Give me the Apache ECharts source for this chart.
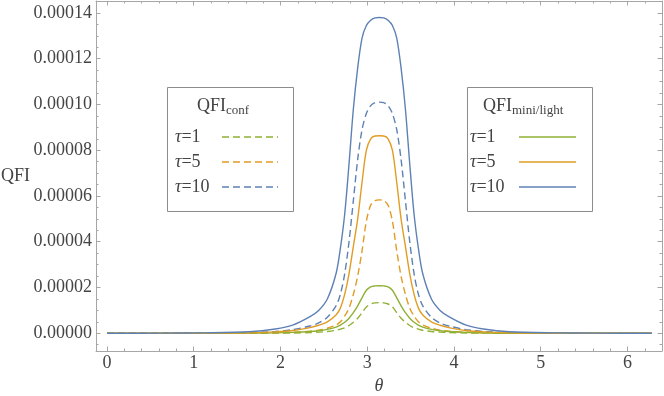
<!DOCTYPE html>
<html><head><meta charset="utf-8">
<script src="https://cdn.jsdelivr.net/npm/echarts@6/dist/echarts.min.js"></script>
<style>html,body{margin:0;padding:0;background:#fff}#c{width:664px;height:396px}</style>
</head><body><div id="c"></div>
<script>
// theta sample positions
const theta = [0, 0.64, 1.14, 1.64, 1.94, 2.14, 2.34, 2.44, 2.54, 2.64, 2.69, 2.74, 2.79, 2.84, 2.89, 2.94, 2.99, 3.04, 3.09, 3.14,
  3.19, 3.24, 3.29, 3.34, 3.39, 3.44, 3.49, 3.54, 3.59, 3.64, 3.74, 3.84, 3.94, 4.14, 4.34, 4.64, 5.14, 5.64, 6.28];
// values in units of 1e-6
const UNIT = 1e-6;
const miniTau10 = [0, 0.05, 0.2, 0.7, 1.9, 3.6, 7.3, 10, 15, 26, 37, 52, 74, 98, 116, 129, 134.5, 136.8, 137.8, 138,
  137.8, 136.8, 134.5, 129, 116, 98, 74, 52, 37, 26, 15, 10, 7.3, 3.6, 1.9, 0.7, 0.2, 0.05, 0];
const confTau10 = [0, 0.02, 0.08, 0.3, 0.8, 1.6, 3.2, 4.5, 7, 12, 17, 26, 40, 58, 76, 89, 96, 99.5, 100.8, 101,
  100.8, 99.5, 96, 89, 76, 58, 40, 26, 17, 12, 7, 4.5, 3.2, 1.6, 0.8, 0.3, 0.08, 0.02, 0];
const miniTau5 = [0, 0.02, 0.08, 0.25, 0.6, 1.2, 2.5, 3.5, 5, 8, 11, 17, 26, 38, 50, 66, 80, 85, 86.2, 86.3,
  86.2, 85, 80, 66, 50, 38, 26, 17, 11, 8, 5, 3.5, 2.5, 1.2, 0.6, 0.25, 0.08, 0.02, 0];
const confTau5 = [0, 0, 0.02, 0.09, 0.22, 0.45, 0.9, 1.4, 2.2, 3.6, 5, 7.5, 11, 17, 25, 36, 49, 56, 58, 58.3,
  58, 56, 49, 36, 25, 17, 11, 7.5, 5, 3.6, 2.2, 1.4, 0.9, 0.45, 0.22, 0.09, 0.02, 0, 0];
const miniTau1 = [0, 0, 0.02, 0.08, 0.2, 0.38, 0.75, 1.1, 1.7, 2.7, 3.6, 4.8, 6.6, 9, 12, 15.5, 18.8, 20.3, 20.7, 20.8,
  20.7, 20.3, 18.8, 15.5, 12, 9, 6.6, 4.8, 3.6, 2.7, 1.7, 1.1, 0.75, 0.38, 0.2, 0.08, 0.02, 0, 0];
const confTau1 = [0, 0, 0, 0.03, 0.07, 0.14, 0.3, 0.5, 0.8, 1.3, 1.8, 2.4, 3.4, 4.8, 6.6, 9, 11.5, 12.8, 13.3, 13.4,
  13.3, 12.8, 11.5, 9, 6.6, 4.8, 3.4, 2.4, 1.8, 1.3, 0.8, 0.5, 0.3, 0.14, 0.07, 0.03, 0, 0, 0];

const xTicks = [0, 1, 2, 3, 4, 5, 6];
const xMinor = [0.2,0.4,0.6,0.8,1.2,1.4,1.6,1.8,2.2,2.4,2.6,2.8,3.2,3.4,3.6,3.8,4.2,4.4,4.6,4.8,5.2,5.4,5.6,5.8,6.2];
const yTicks = [0, 0.00002, 0.00004, 0.00006, 0.00008, 0.0001, 0.00012, 0.00014];
const yMinor = [-0.000005,0.000005,0.00001,0.000015,0.000025,0.00003,0.000035,0.000045,0.00005,0.000055,
  0.000065,0.00007,0.000075,0.000085,0.00009,0.000095,0.000105,0.00011,0.000115,0.000125,0.00013,0.000135];

const GREEN = '#8FB032', ORANGE = '#E19C24', BLUE = '#5E81B5';
const FRAME = '#a6a6a6', LABEL = '#444';
const FONT = '"Liberation Serif", "DejaVu Serif", serif';

const XMIN = -0.1268, XMAX = 6.398, YMIN = -0.00000774, YMAX = 0.0001452;

function pts(arr){ return theta.map((t,i)=>[t, arr[i]*UNIT]); }

function xAx(pos, ticks, len, labels, line){
  return {type:'value', min:XMIN, max:XMAX, position:pos,
    axisLine:{show:line, onZero:false, lineStyle:{color:FRAME, width:1}},
    axisTick:{show:true, inside:true, length:len, customValues:ticks, lineStyle:{color:FRAME, width:1}},
    axisLabel: labels ? {show:true, customValues:xTicks, margin:3, color:LABEL, fontSize:18, fontFamily:FONT,
      formatter:v=>String(Math.round(v))} : {show:false},
    splitLine:{show:false}};
}
function yAx(pos, ticks, len, labels, line){
  return {type:'value', min:YMIN, max:YMAX, position:pos,
    axisLine:{show:line, onZero:false, lineStyle:{color:FRAME, width:1}},
    axisTick:{show:true, inside:true, length:len, customValues:ticks, lineStyle:{color:FRAME, width:1}},
    axisLabel: labels ? {show:true, customValues:yTicks, margin:4, color:LABEL, fontSize:18, fontFamily:FONT,
      formatter:v=>v.toFixed(5)} : {show:false},
    splitLine:{show:false}};
}

const xAxes = [xAx('bottom', xTicks, 4.5, true, true), xAx('bottom', xMinor, 2.5, false, false),
  xAx('top', xTicks, 4.5, false, true), xAx('top', xMinor, 2.5, false, false)];
xAxes[0].name = 'θ'; xAxes[0].nameLocation = 'middle'; xAxes[0].nameGap = 26;
xAxes[0].nameTextStyle = {fontFamily:FONT, fontStyle:'italic', fontSize:18, color:LABEL};
const yAxes = [yAx('left', yTicks, 4.5, true, true), yAx('left', yMinor, 2.5, false, false),
  yAx('right', yTicks, 4.5, false, true), yAx('right', yMinor, 2.5, false, false)];

function ser(name, arr, color, dashed){
  return {name, type:'line', data:pts(arr), showSymbol:false, symbol:'none', smooth:0.3, animation:false,
    lineStyle:{color, width:1.4, type: dashed ? [7,4] : 'solid'}, z:dashed?2:3};
}

const series = [
  ser('conf τ=1', confTau1, GREEN, true), ser('conf τ=5', confTau5, ORANGE, true), ser('conf τ=10', confTau10, BLUE, true),
  ser('mini τ=1', miniTau1, GREEN, false), ser('mini τ=5', miniTau5, ORANGE, false), ser('mini τ=10', miniTau10, BLUE, false)
];

function legendBox(x, y, w, h, titleMain, titleSub, titleX, textX, lineX1, lineX2, dashed){
  const els = [{type:'rect', shape:{x, y, width:w, height:h}, style:{fill:'#fff', stroke:'#8c8c8c', lineWidth:1}, z:10},
    {type:'text', x:titleX, y:y+19, z:11, style:{text:'{m|'+titleMain+'}{s|'+titleSub+'}', verticalAlign:'middle',
      rich:{m:{fontFamily:FONT, fontSize:18, fill:LABEL}, s:{fontFamily:FONT, fontSize:13, fill:LABEL, padding:[8,0,0,0]}}}}];
  const rows = [['1', GREEN, 49.5], ['5', ORANGE, 74.5], ['10', BLUE, 99.5]];
  rows.forEach(r=>{
    els.push({type:'text', x:textX, y:y+r[2], z:11, style:{text:'{t|τ}{n|='+r[0]+'}', verticalAlign:'middle',
      rich:{t:{fontFamily:FONT, fontSize:18, fontStyle:'italic', fill:LABEL}, n:{fontFamily:FONT, fontSize:18, fill:LABEL}}}});
    els.push({type:'line', z:11, shape:{x1:lineX1, y1:y+r[2], x2:lineX2, y2:y+r[2]},
      style:{stroke:r[1], lineWidth:1.4, lineDash: dashed ? [7,4] : null}});
  });
  return els;
}

const graphic = [].concat(
  [{type:'text', x:1, y:176, z:11, style:{text:'QFI', fontFamily:FONT, fontSize:18, fill:LABEL, verticalAlign:'middle', align:'left'}}],
  legendBox(167.5, 87.5, 126, 124, 'QFI', 'conf', 197, 175, 222, 278, true),
  legendBox(467.5, 87.5, 125, 124, 'QFI', 'mini/light', 483, 470, 519, 576, false)
);

const chart = echarts.init(document.getElementById('c'), null, {renderer:'canvas'});
chart.setOption({
  backgroundColor:'#fff', animation:false,
  grid:{left:96, right:2, top:1, bottom:45, containLabel:false, outerBoundsMode:'none'},
  xAxis:xAxes, yAxis:yAxes,
  series: series.map(s=>Object.assign(s,{xAxisIndex:0, yAxisIndex:0})),
  graphic
});
</script></body></html>
